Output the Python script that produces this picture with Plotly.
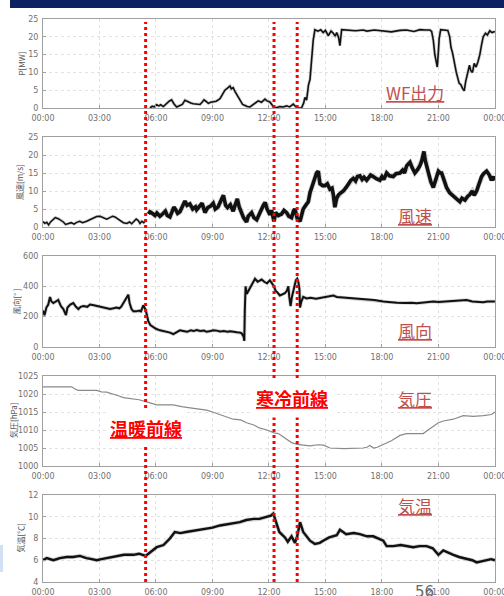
import pandas as pd
import plotly.graph_objects as go

# ---- data: hours after midnight and readings ----
p_hours = [5.68, 5.8, 5.9, 6.04, 6.15, 6.25, 6.39, 6.5, 6.6, 6.7,
           6.83, 6.95, 7.1, 7.25, 7.4, 7.54, 7.7, 7.85, 7.98, 8.15,
           8.34, 8.45, 8.55, 8.65, 8.78, 8.9, 9.04, 9.2, 9.4, 9.5,
           9.66, 9.8, 9.93, 10.0, 10.1, 10.2, 10.37, 10.5, 10.6, 10.73,
           10.85, 10.99, 11.15, 11.3, 11.43, 11.6, 11.79, 11.9, 12.05, 12.15,
           12.27, 12.4, 12.58, 12.75, 12.94, 13.1, 13.2, 13.29, 13.4, 13.47,
           13.6, 13.73, 13.85, 13.91, 14.0, 14.1, 14.18, 14.25, 14.35, 14.44,
           14.6, 14.75, 14.88, 15.0, 15.15, 15.3, 15.42, 15.52, 15.6, 15.7,
           15.77, 15.86, 16.2, 16.6, 17.0, 17.2, 17.6, 18.0, 18.5, 18.96,
           19.3, 19.7, 20.02, 20.3, 20.55, 20.64, 20.73, 20.81, 20.88, 20.94,
           21.0, 21.04, 21.12, 21.3, 21.5, 21.6, 21.67, 21.75, 21.84, 21.95,
           22.1, 22.2, 22.28, 22.37, 22.45, 22.55, 22.65, 22.72, 22.81, 22.9,
           23.0, 23.1, 23.2, 23.3, 23.38, 23.5, 23.6, 23.73, 23.85, 24.0]
p_mw = [0.0, 0.5, 0.3, 0.9, 0.6, 0.9, 0.4, 1.0, 1.4, 1.9,
        2.3, 1.2, 0.3, 0.6, 1.0, 2.2, 1.7, 1.4, 1.2, 1.1,
        1.0, 1.6, 2.3, 1.9, 1.3, 1.6, 1.7, 1.9, 2.6, 3.6,
        5.0, 5.6, 6.2, 5.4, 5.7, 4.6, 3.0, 1.8, 1.0, 0.7,
        0.4, 0.3, 0.9, 1.5, 2.0, 1.6, 2.5, 2.0, 1.7, 1.0,
        0.0, 0.1, 0.4, 0.3, 0.6, 0.3, 0.8, 1.1, 0.5, 0.2,
        0.0, 0.0, 1.5, 3.0, 2.2, 6.5, 8.0, 13.0, 19.0, 22.0,
        21.6, 22.0, 21.2, 21.8, 20.3, 21.6, 21.0, 20.2, 21.2, 19.8,
        17.5, 22.0, 21.9, 21.7, 21.9, 21.6, 21.9, 21.7, 21.4, 21.8,
        21.9, 21.5, 22.0, 21.9, 21.9, 21.5, 19.0, 15.0, 13.5, 11.5,
        16.0, 19.5, 22.0, 22.0, 21.8, 20.0, 17.0, 15.5, 13.0, 10.0,
        7.0, 6.5, 5.5, 4.8, 7.5, 9.5, 12.0, 10.5, 10.0, 12.5,
        11.5, 13.0, 15.0, 18.0, 20.0, 21.0, 20.5, 21.7, 21.2, 21.5]

ws_calm_hours = [0.0, 0.1, 0.2, 0.3, 0.4, 0.55, 0.65, 0.81, 0.95, 1.08,
                 1.2, 1.35, 1.5, 1.65, 1.79, 1.95, 2.1, 2.32, 2.5, 2.67,
                 2.85, 3.03, 3.2, 3.38, 3.55, 3.7, 3.82, 4.0, 4.15, 4.27,
                 4.45, 4.6, 4.71, 4.85, 4.95, 5.06, 5.15, 5.25, 5.35, 5.45]
ws_calm = [1.5, 1.0, 1.3, 0.6, 1.4, 2.2, 2.6, 2.3, 1.8, 1.4,
           0.7, 0.9, 1.2, 0.8, 1.3, 1.6, 1.2, 1.6, 2.0, 2.6,
           2.9, 3.0, 2.6, 2.2, 2.6, 3.0, 2.8, 2.2, 1.6, 1.2,
           1.0, 1.4, 0.9, 1.6, 2.2, 1.8, 1.0, 1.6, 1.2, 1.8]

ws_hours = [5.6, 5.68, 5.8, 5.95, 6.05, 6.21, 6.35, 6.5, 6.6, 6.74,
            6.85, 6.95, 7.05, 7.15, 7.27, 7.4, 7.54, 7.65, 7.8, 7.95,
            8.1, 8.16, 8.3, 8.45, 8.51, 8.6, 8.75, 8.9, 9.04, 9.15,
            9.3, 9.45, 9.58, 9.7, 9.8, 9.95, 10.1, 10.2, 10.32, 10.42,
            10.55, 10.65, 10.81, 10.9, 11.08, 11.2, 11.35, 11.5, 11.7, 11.8,
            11.9, 12.05, 12.14, 12.27, 12.35, 12.5, 12.67, 12.8, 12.94, 13.05,
            13.2, 13.3, 13.38, 13.5, 13.6, 13.65, 13.75, 13.82, 13.95, 14.09,
            14.18, 14.27, 14.4, 14.53, 14.62, 14.71, 14.85, 14.97, 15.1, 15.24,
            15.35, 15.42, 15.5, 15.6, 15.7, 15.82, 15.95, 16.1, 16.21, 16.35,
            16.48, 16.6, 16.7, 16.83, 16.95, 17.05, 17.19, 17.3, 17.4, 17.54,
            17.7, 17.89, 18.0, 18.1, 18.25, 18.4, 18.6, 18.75, 18.96, 19.1,
            19.2, 19.31, 19.4, 19.49, 19.6, 19.75, 19.9, 20.02, 20.12, 20.23,
            20.3, 20.4, 20.46, 20.6, 20.73, 20.82, 20.9, 21.0, 21.1, 21.17,
            21.3, 21.43, 21.6, 21.79, 21.95, 22.14, 22.25, 22.41, 22.55, 22.67,
            22.8, 22.9, 23.03, 23.15, 23.29, 23.4, 23.56, 23.7, 23.82, 23.92,
            24.0]
ws = [3.6, 4.2, 3.8, 3.2, 3.9, 3.0, 3.6, 4.4, 3.2, 2.8,
      4.2, 5.5, 4.8, 3.8, 4.2, 5.4, 7.2, 6.0, 6.4, 5.0,
      5.6, 4.8, 5.8, 6.6, 5.6, 4.0, 5.4, 5.8, 6.6, 5.0,
      5.6, 7.4, 8.8, 6.0, 5.4, 6.2, 4.4, 6.0, 7.8, 5.6,
      3.6, 2.6, 1.4, 3.0, 4.0, 2.6, 2.0, 4.0, 6.0, 6.8,
      5.0, 3.4, 4.6, 1.6, 4.0, 3.2, 3.6, 4.6, 4.0, 3.0,
      2.6, 4.4, 5.0, 2.4, 2.0, 1.6, 3.6, 5.0, 6.0, 7.0,
      9.5, 11.0, 12.5, 15.0, 15.5, 12.0, 11.5, 11.5, 12.0, 10.5,
      10.8, 9.0, 5.5, 8.0, 9.0, 9.5, 10.0, 11.0, 12.0, 13.0,
      13.5, 12.8, 14.0, 14.2, 13.2, 13.8, 13.0, 13.6, 14.4, 14.0,
      13.4, 13.0, 14.0, 13.2, 15.0, 14.2, 14.0, 14.8, 15.0, 15.8,
      15.0, 17.0, 17.6, 18.0, 16.5, 15.0, 16.0, 17.0, 18.5, 21.0,
      18.5, 16.5, 15.0, 12.5, 11.0, 12.5, 14.0, 15.5, 15.0, 15.0,
      13.0, 11.0, 9.5, 8.5, 8.0, 7.0, 8.0, 7.5, 8.5, 9.0,
      10.0, 8.8, 10.0, 12.0, 14.0, 14.8, 15.5, 14.5, 13.0, 14.0,
      13.0]

wd_hours = [0.0, 0.08, 0.18, 0.28, 0.37, 0.45, 0.55, 0.68, 0.81, 0.95,
            1.08, 1.22, 1.3, 1.45, 1.61, 1.75, 1.88, 2.0, 2.15, 2.35,
            2.5, 2.7, 2.9, 3.05, 3.2, 3.4, 3.56, 3.75, 3.9, 4.05,
            4.15, 4.27, 4.4, 4.53, 4.6, 4.7, 4.8, 4.95, 5.1, 5.2,
            5.33, 5.45, 5.52, 5.59, 5.7, 5.85, 6.0, 6.21, 6.4, 6.6,
            6.75, 6.92, 7.1, 7.27, 7.45, 7.65, 7.85, 8.0, 8.16, 8.35,
            8.55, 8.69, 8.9, 9.05, 9.22, 9.4, 9.6, 9.8, 9.95, 10.1,
            10.3, 10.45, 10.55, 10.65, 10.69, 10.72, 10.76, 10.82, 10.95, 11.1,
            11.26, 11.4, 11.5, 11.61, 11.75, 11.9, 12.05, 12.15, 12.27, 12.35,
            12.45, 12.58, 12.7, 12.85, 12.95, 13.03, 13.08, 13.15, 13.22, 13.3,
            13.38, 13.43, 13.5, 13.56, 13.62, 13.65, 13.72, 13.82, 14.0, 14.2,
            14.5, 14.8, 15.06, 15.25, 15.42, 15.6, 15.8, 16.0, 16.4, 16.8,
            17.19, 17.6, 18.07, 18.4, 18.8, 19.2, 19.6, 19.84, 20.2, 20.5,
            20.73, 21.0, 21.4, 21.8, 22.1, 22.5, 22.8, 23.1, 23.38, 23.6,
            23.8, 24.0]
wd_deg = [240, 210, 260, 280, 330, 300, 290, 300, 310, 270,
          250, 210, 260, 280, 290, 265, 250, 265, 270, 265,
          280, 275, 270, 265, 260, 255, 250, 255, 260, 255,
          265, 290, 320, 345, 290, 250, 235, 235, 240, 235,
          275, 245, 210, 170, 145, 130, 120, 110, 105, 100,
          95, 85, 100, 110, 105, 100, 110, 105, 112, 105,
          108, 100, 105, 110, 108, 102, 105, 100, 104, 100,
          98, 96, 90, 70, 40, 250, 400, 350, 380, 420,
          450, 430, 440, 445, 430, 420, 440, 425, 400, 370,
          360, 340, 345, 355, 370, 400, 330, 270, 330, 380,
          420, 440, 450, 430, 380, 260, 300, 330, 320, 325,
          318, 325, 330, 335, 340, 330, 328, 325, 322, 318,
          312, 310, 300, 295, 292, 290, 292, 288, 292, 298,
          300, 296, 300, 305, 308, 310, 300, 298, 295, 300,
          298, 300]

pa_hours = [0.0, 1.52, 1.7, 1.88, 2.85, 3.1, 3.38, 3.73, 4.0, 4.27,
            4.8, 5.1, 5.5, 5.8, 6.04, 6.92, 7.36, 8.0, 8.69, 9.0,
            9.4, 9.7, 10.1, 10.5, 10.81, 11.2, 11.52, 11.9, 12.27, 12.5,
            12.76, 13.0, 13.2, 13.5, 14.18, 14.6, 14.9, 15.24, 16.0, 17.0,
            17.2, 17.36, 17.55, 17.75, 18.07, 18.5, 18.96, 19.3, 19.66, 20.19,
            20.45, 20.73, 21.0, 21.26, 21.79, 22.32, 22.85, 23.38, 23.82, 24.0]
pa_hpa = [1022.0, 1022.0, 1021.4, 1021.0, 1021.0, 1020.6, 1020.5, 1020.0, 1019.5, 1019.0,
          1018.7, 1018.4, 1017.8, 1017.3, 1017.0, 1017.0, 1016.5, 1016.0, 1015.5, 1015.0,
          1014.2, 1013.6, 1013.0, 1012.8, 1012.0, 1011.4, 1010.5, 1010.0, 1009.2, 1009.0,
          1008.0, 1007.2, 1006.5, 1006.0, 1005.6, 1005.9, 1005.8, 1005.0, 1004.8, 1005.0,
          1005.2, 1005.7, 1005.0, 1005.2, 1006.0, 1007.0, 1008.5, 1009.0, 1009.0, 1009.0,
          1010.0, 1011.0, 1012.0, 1012.5, 1013.0, 1014.0, 1013.8, 1014.0, 1014.3, 1015.0]

ta_hours = [0.0, 0.2, 0.55, 0.9, 1.26, 1.6, 1.96, 2.3, 2.6, 2.85,
            3.1, 3.38, 3.65, 3.91, 4.3, 4.8, 5.1, 5.45, 5.6, 5.8,
            6.04, 6.4, 6.74, 7.0, 7.3, 7.6, 7.98, 8.3, 8.69, 9.0,
            9.4, 9.8, 10.1, 10.45, 10.8, 11.17, 11.5, 11.88, 12.1, 12.23,
            12.41, 12.55, 12.85, 13.0, 13.2, 13.38, 13.5, 13.56, 13.65, 13.82,
            14.0, 14.18, 14.44, 14.7, 14.88, 15.2, 15.6, 15.77, 16.1, 16.5,
            16.83, 17.2, 17.54, 17.8, 18.07, 18.25, 18.6, 19.0, 19.3, 19.66,
            20.0, 20.37, 20.7, 21.0, 21.26, 21.5, 21.79, 22.1, 22.5, 22.8,
            23.03, 23.3, 23.6, 23.8, 24.0]
ta_degc = [6.0, 6.2, 6.0, 6.2, 6.3, 6.3, 6.4, 6.2, 6.1, 6.0,
           6.1, 6.2, 6.3, 6.4, 6.5, 6.5, 6.6, 6.4, 6.6, 6.9,
           7.2, 7.4, 8.0, 8.6, 8.5, 8.6, 8.7, 8.8, 8.9, 9.0,
           9.2, 9.3, 9.4, 9.5, 9.7, 9.8, 9.8, 10.0, 10.1, 10.3,
           9.4, 8.6, 8.1, 7.7, 8.2, 7.6, 8.2, 8.8, 9.5, 8.6,
           8.2, 7.8, 7.5, 7.6, 7.8, 8.1, 8.3, 8.8, 8.4, 8.5,
           8.4, 8.2, 8.2, 8.0, 7.8, 7.3, 7.3, 7.4, 7.3, 7.2,
           7.3, 7.3, 7.1, 6.5, 6.9, 6.7, 6.5, 6.3, 6.1, 6.0,
           5.8, 5.9, 6.0, 6.1, 6.0]

tick_hours = [0, 3, 6, 9, 12, 15, 18, 21, 24]
tick_text = ["00:00", "03:00", "06:00", "09:00", "12:00",
             "15:00", "18:00", "21:00", "00:00"]
front_hours = [5.45, 12.27, 13.5]          # warm front, cold front passages

BASE = pd.Timestamp("2000-01-01")


def stamp(hours):
    return [BASE + pd.Timedelta(hours=h) for h in hours]


W, H = 504, 596
FONT = "DejaVu Sans"
CJK = "Noto Sans CJK JP"
LABEL_RED = "#c0504d"


def ppx(px):
    return px / W


def ppy(py):
    return 1 - py / H


# vertical extents (pixels from top) of the five stacked panels
panel_px = [(19, 108), (137, 227), (256, 347), (376, 466), (495, 582)]
x_left, x_right = 43, 495

fig = go.Figure()

traces = [
    (1, p_hours, p_mw, "#111111", 1.6),
    (2, ws_calm_hours, ws_calm, "#111111", 1.5),
    (2, ws_hours, ws, "#111111", 3.6),
    (3, wd_hours, wd_deg, "#111111", 2.0),
    (4, pa_hours, pa_hpa, "#8a8a8a", 1.2),
    (5, ta_hours, ta_degc, "#111111", 2.4),
]
for idx, hrs, vals, col, w in traces:
    sfx = "" if idx == 1 else str(idx)
    if col == "#111111":
        fig.add_trace(go.Scatter(
            x=stamp(hrs), y=vals, mode="lines", xaxis="x" + sfx, yaxis="y" + sfx,
            line=dict(color="rgba(0,0,0,0.18)", width=w + 1.6),
            hoverinfo="skip", showlegend=False))
    fig.add_trace(go.Scatter(
        x=stamp(hrs), y=vals, mode="lines", xaxis="x" + sfx, yaxis="y" + sfx,
        line=dict(color=col, width=w), showlegend=False))

y_specs = [
    dict(range=[0, 25], dtick=5),
    dict(range=[0, 25], dtick=5),
    dict(range=[0, 600], dtick=200),
    dict(range=[1000, 1025], dtick=5),
    dict(range=[4, 12], dtick=2),
]

axis_common = dict(
    showline=True, linecolor="#a0a0a0", linewidth=1, mirror=True,
    ticks="inside", ticklen=3, tickcolor="#a0a0a0",
    showgrid=True, gridcolor="#e2e2e2", griddash="dot", gridwidth=1,
    zeroline=False, automargin=False,
    tickfont=dict(family=FONT, size=8, color="#707070"),
)

layout = dict(
    width=W, height=H, margin=dict(l=0, r=0, t=0, b=0),
    paper_bgcolor="white", plot_bgcolor="white", showlegend=False,
)
x0 = BASE
x1 = BASE + pd.Timedelta(hours=24, seconds=20)
for i, (top, bot) in enumerate(panel_px):
    n = i + 1
    sfx = "" if n == 1 else str(n)
    layout["xaxis" + sfx] = dict(
        axis_common, type="date", range=[x0, x1],
        domain=[ppx(x_left), ppx(x_right)], anchor="y" + sfx,
        tickvals=stamp(tick_hours), ticktext=tick_text,
        ticklabelstandoff=2, ticklabeloverflow="allow",
    )
    layout["yaxis" + sfx] = dict(
        axis_common, range=y_specs[i]["range"], dtick=y_specs[i]["dtick"],
        domain=[ppy(bot), ppy(top)], anchor="x" + sfx, ticklabelstandoff=2,
    )
fig.update_layout(**layout)

# header band and slide decoration
fig.add_shape(type="rect", xref="paper", yref="paper",
              x0=ppx(10), x1=1, y0=ppy(8), y1=1,
              fillcolor="#0b2160", line_width=0, layer="above")
fig.add_shape(type="rect", xref="paper", yref="paper",
              x0=0, x1=ppx(3), y0=ppy(572), y1=ppy(545),
              fillcolor="rgba(120,170,220,0.35)", line_width=0, layer="above")

# front passage markers through all panels
for h in front_hours:
    xs = BASE + pd.Timedelta(hours=h)
    fig.add_shape(type="line", xref="x", yref="paper",
                  x0=xs, x1=xs, y0=ppy(582), y1=ppy(22),
                  line=dict(color="#ff0000", width=3, dash="dot"), layer="above")

# axis titles
y_titles = ["P[MW]", "風速[m/s]", "風向[° ]", "気圧[hPa]", "気温[℃]"]
y_title_x = [21, 20, 16, 13, 20]
for i, (top, bot) in enumerate(panel_px):
    fig.add_annotation(
        text=y_titles[i], xref="paper", yref="paper",
        x=ppx(y_title_x[i]), y=ppy((top + bot) / 2), textangle=-90,
        xanchor="center", yanchor="middle",
        showarrow=False, font=dict(family=CJK, size=8, color="#555555"))

# panel labels
panel_labels = ["WF出力", "風速", "風向", "気圧", "気温"]
panel_label_y = [92, 215, 330, 398, 505]
for txt, yy in zip(panel_labels, panel_label_y):
    fig.add_annotation(
        text="<u>" + txt + "</u>", xref="paper", yref="paper",
        x=ppx(415), y=ppy(yy), xanchor="center", yanchor="middle", showarrow=False,
        font=dict(family=CJK, size=17, color=LABEL_RED))

# front names (boxed in white so the marker lines break around them)
fig.add_annotation(
    text="<u><b>温暖前線</b></u>", xref="paper", yref="paper",
    x=ppx(146), y=ppy(428), xanchor="center", yanchor="middle",
    showarrow=False, bgcolor="white", borderpad=4,
    font=dict(family=CJK, size=18, color="#ff0000"))
fig.add_annotation(
    text="<u><b>寒冷前線</b></u>", xref="paper", yref="paper",
    x=ppx(292), y=ppy(398), xanchor="center", yanchor="middle",
    showarrow=False, bgcolor="white", borderpad=6,
    font=dict(family=CJK, size=18, color="#ff0000"))

# page number
fig.add_annotation(
    text="56", xref="paper", yref="paper", x=ppx(424), y=ppy(592),
    xanchor="center", yanchor="middle",
    showarrow=False, font=dict(family=FONT, size=15, color="#666666"))

fig.write_html("out.html")
